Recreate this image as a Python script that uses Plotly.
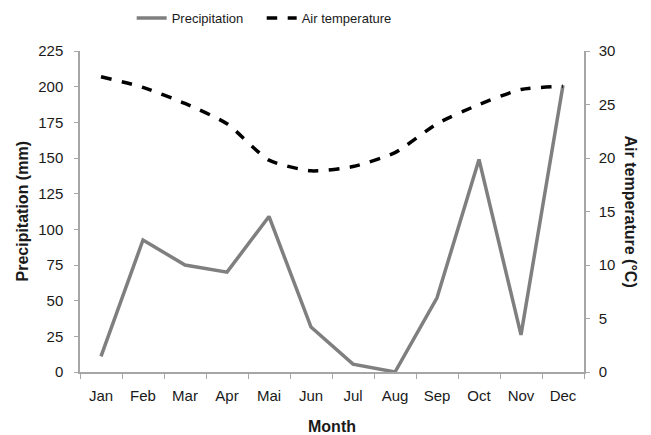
import plotly.graph_objects as go

months = ["Jan", "Feb", "Mar", "Apr", "Mai", "Jun", "Jul", "Aug", "Sep", "Oct", "Nov", "Dec"]
precipitation = [11, 92.5, 75, 70, 109, 31.5, 5.5, 0, 52, 149, 26, 201]
air_temperature = [27.6, 26.6, 25.1, 23.2, 19.8, 18.8, 19.2, 20.5, 23.2, 25.0, 26.4, 26.7]

FONT = "Liberation Sans, Arial, sans-serif"
AXIS_COLOR = "#a6a6a6"
TXT = "#1a1a1a"

fig = go.Figure()
fig.add_trace(go.Scatter(
    x=months, y=precipitation, name="Precipitation", mode="lines",
    line=dict(color="#7f7f7f", width=3.5),
))
fig.add_trace(go.Scatter(
    x=months, y=air_temperature, name="Air temperature", mode="lines",
    line=dict(color="black", width=3.5, dash="dash", shape="spline", smoothing=0.6),
    yaxis="y2",
))

fig.update_layout(
    width=651, height=435,
    margin=dict(l=72, r=75, t=43, b=71, autoexpand=False),
    paper_bgcolor="white", plot_bgcolor="white",
    font=dict(family=FONT, size=13, color=TXT),
    showlegend=True,
    legend=dict(orientation="h", xref="container", yref="container",
                x=0.19, xanchor="left", y=0.977, yanchor="middle",
                entrywidth=85, entrywidthmode="pixels",
                font=dict(size=13, color=TXT), bgcolor="rgba(0,0,0,0)"),
    xaxis=dict(
        type="category", range=[-0.5, 11.5], tickson="boundaries",
        showline=True, linecolor=AXIS_COLOR, linewidth=1.5,
        ticks="outside", ticklen=5, tickcolor=AXIS_COLOR,
        showgrid=False, zeroline=False, ticklabelstandoff=9,
        tickfont=dict(size=15),
    ),
    yaxis=dict(
        range=[0, 225], tickvals=[0, 25, 50, 75, 100, 125, 150, 175, 200, 225],
        showline=True, linecolor=AXIS_COLOR, linewidth=1.5,
        ticks="outside", ticklen=4, tickcolor=AXIS_COLOR,
        showgrid=False, zeroline=False, ticklabelstandoff=8,
        tickfont=dict(size=15),
    ),
    yaxis2=dict(
        range=[0, 30], tickvals=[0, 5, 10, 15, 20, 25, 30],
        overlaying="y", side="right",
        showline=True, linecolor=AXIS_COLOR, linewidth=1.5,
        ticks="outside", ticklen=4, tickcolor=AXIS_COLOR,
        showgrid=False, zeroline=False, ticklabelstandoff=6,
        tickfont=dict(size=15),
    ),
    annotations=[
        dict(text="<b>Month</b>", xref="paper", yref="paper", x=0.5, y=0, yshift=-54,
             xanchor="center", yanchor="middle", showarrow=False,
             font=dict(size=16, color=TXT)),
        dict(text="<b>Precipitation (mm)</b>", textangle=-90,
             xref="paper", yref="paper", x=0, xshift=-58, y=0.5,
             xanchor="center", yanchor="middle", showarrow=False,
             font=dict(size=16, color=TXT)),
        dict(text="<b>Air temperature (°C)</b>", textangle=90,
             xref="paper", yref="paper", x=1.0, xshift=46, y=0.5,
             xanchor="center", yanchor="middle", showarrow=False,
             font=dict(size=16, color=TXT)),
    ],
)

fig.write_html("out.html")
